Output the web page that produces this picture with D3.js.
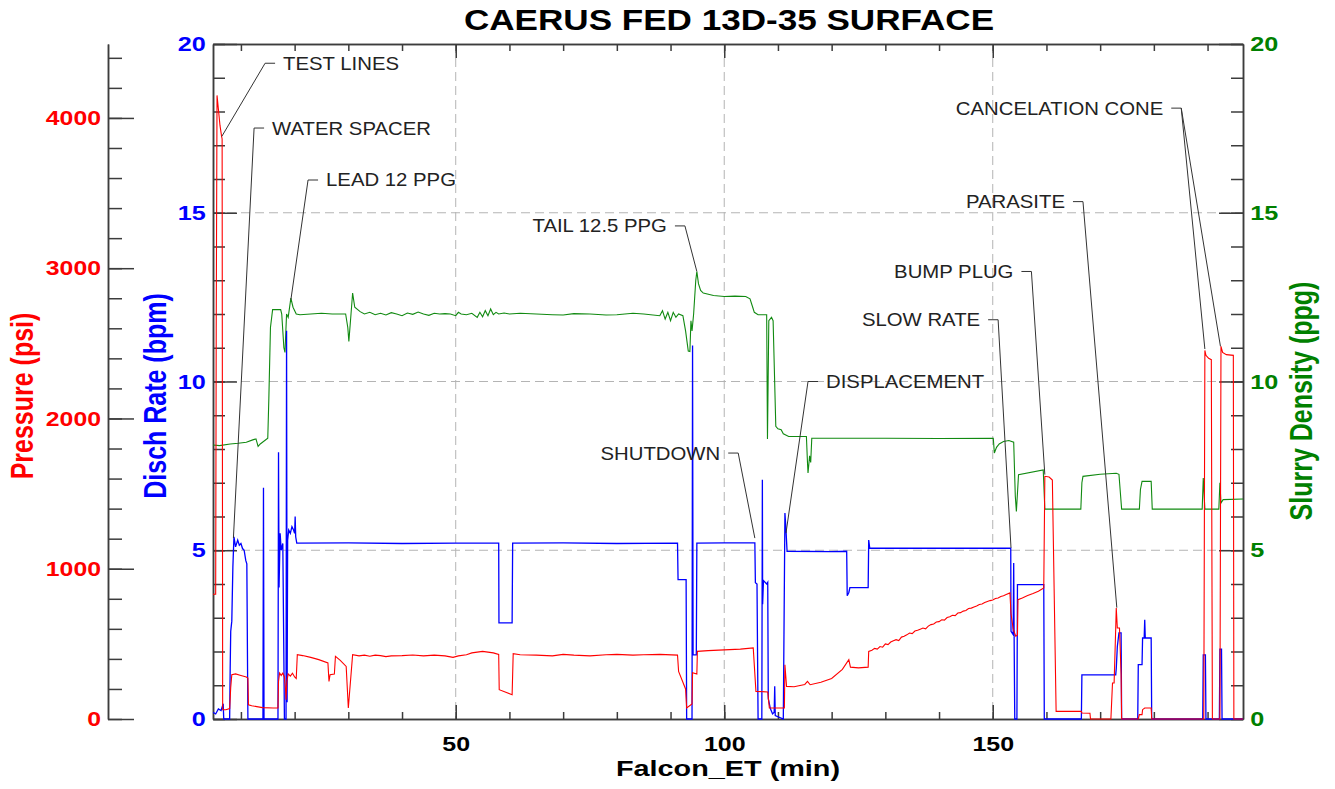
<!DOCTYPE html>
<html>
<head>
<meta charset="utf-8">
<script src="https://cdn.jsdelivr.net/npm/d3@7"></script>
<style>
  body { margin: 0; background: #fff; }
  text { font-family: "Liberation Sans", Arial, sans-serif; }
</style>
</head>
<body>
<div id="chart"></div>
<script>
// ---- chart data ----
const chartTitle = "CAERUS FED 13D-35 SURFACE";
const xTitle = "Falcon_ET (min)";
const pressureTitle = "Pressure (psi)";
const rateTitle = "Disch Rate (bpm)";
const densityTitle = "Slurry Density (ppg)";

const timeDomain = [4.8, 196.6];
const timeMajor = [50, 100, 150];
const timeMinor = d3.range(10, 200, 10);
const pressureDomain = [0, 4492];
const pressureMajor = [0, 1000, 2000, 3000, 4000];
const pressureMinor = d3.range(0, 4500, 200);
const rateMajor = [0, 5, 10, 15, 20];
const rateMinor = d3.range(0, 21, 1);

// [minutes, psi]
const pressure = [
  [4.8,830],[5.3,830],[5.4,2600],[5.55,4150],[5.8,4060],[6.1,3950],[6.4,3877],[6.5,3860],[6.6,62],[7.2,62],[7.9,70],
  [8.1,210],[8.3,295],[9.0,300],[10.0,290],[11.0,280],[11.3,273],[11.4,95],[12.0,88],[14.0,76],[16.0,73],[16.9,73],
  [17.0,250],[17.2,306],[17.5,290],[17.8,305],[18.1,280],[18.3,200],[18.4,128],[18.55,250],[18.8,300],[19.2,285],
  [19.6,305],[20.0,280],[20.3,270],[20.5,428],[21.5,422],[23.0,410],[24.5,395],[26.2,373],[26.4,250],[26.6,295],
  [27.4,300],[27.6,417],[28.5,390],[29.6,350],[30.0,73],[30.8,428],[32,420],[33,425],[34,418],[35,425],[36,422],
  [37,415],[38,420],[40,422],[42,426],[44,420],[46,425],[48,420],[49.5,410],[50.5,420],[52,428],[53,440],[54,445],
  [55,450],[56,445],[57,440],[58.0,430],[58.1,195],[60.5,162],[60.7,435],[62,428],[65,425],[68,420],[70,430],
  [72,425],[75,420],[78,428],[80,430],[83,425],[85,428],[88,430],[91.3,425],[91.5,317],[92.8,200],[93.0,73],
  [94.0,100],[94.1,308],[94.9,300],[95.0,450],[97,455],[100,460],[103,465],[105.4,473],[105.9,184],[108.1,180],
  [108.4,73],[111.2,73],[111.3,361],[111.6,217],[113,215],[115,230],[115.5,250],[116,228],[118,245],[120,270],
  [122,330],[123.2,395],[123.5,345],[125,340],[126.8,345],[126.9,450],[127.5,458],[128,470],[128.5,465],[129,482],
  [129.5,478],[130,500],[130.5,495],[131,512],[131.5,520],[132,528],[132.5,522],[133,545],[133.5,550],[134,560],
  [134.5,572],[135,568],[135.5,585],[136,590],[136.5,598],[137,605],[137.5,600],[138,618],[138.5,628],[139,632],
  [139.5,645],[140,648],[140.5,660],[141,658],[141.5,675],[142,680],[142.5,690],[143,688],[143.5,705],[144,708],
  [144.5,718],[145,722],[145.5,735],[146,738],[146.5,745],[147,752],[147.5,762],[148,765],[148.5,775],[149,782],
  [149.5,788],[150,792],[150.5,802],[151,805],[151.5,815],[152,820],[152.5,828],[153.2,839],[153.4,700],[153.8,600],
  [154.3,550],[154.6,560],[154.7,794],[155.5,805],[156.5,822],[157.5,835],[158.5,850],[159.5,872],[159.7,1615],
  [160.5,1610],[161.1,1590],[161.8,51],[166.5,51],[166.6,40],[168.1,38],[168.2,0],[172.0,0],[172.3,240],[172.6,240],
  [172.9,606],[173.0,739],[173.2,606],[173.6,606],[173.9,300],[174.0,0],[177.1,0],[177.3,29],[177.8,29],[177.9,62],
  [178.3,73],[179.5,73],[179.6,0],[189.3,0],[189.5,2453],[189.7,2420],[190.2,2400],[190.7,2391],[190.9,0],
  [192.3,0],[192.5,2480],[192.8,2440],[193.5,2425],[194.8,2420],[194.9,0],[196.6,0]
];

// [minutes, bpm]
const rate = [
  [4.8,0.2],[5.3,0.15],[5.8,0.3],[6.3,0.25],[6.7,0.45],[6.8,0],[7.9,0],[8.0,1.5],[8.1,2.6],[8.3,2.9],[8.5,4.5],
  [8.7,5.4],[9.0,5.1],[9.4,5.3],[9.7,5.15],[10.0,5.2],[10.3,5.05],[10.6,5.0],[10.9,4.7],[11.1,4.6],[11.3,0],
  [14.1,0],[14.2,6.85],[14.3,0],[16.9,0],[17.0,7.9],[17.1,3.9],[17.3,5.5],[17.5,5.0],[17.8,5.2],[18.1,0],[18.4,0],
  [18.5,11.5],[18.6,0.5],[18.7,5.3],[18.9,5.6],[19.2,5.5],[19.5,5.7],[19.8,5.6],[20.0,5.5],[20.1,6.0],[20.2,5.4],
  [20.4,5.21],[30,5.22],[40,5.2],[50,5.21],[58.0,5.21],[58.05,2.85],[60.5,2.85],[60.6,5.21],[70,5.22],[80,5.2],
  [91.3,5.21],[91.4,4.13],[92.9,4.13],[93.0,0],[94.0,0],[94.1,11.07],[94.2,1.9],[94.8,1.9],[94.9,5.21],[100,5.22],
  [105.7,5.22],[105.8,4.04],[106.1,4.0],[106.3,0],[107.0,0],[107.1,7.09],[107.15,3.4],[107.3,4.1],[107.9,4.0],
  [108.1,4.05],[108.2,0.6],[108.6,0.3],[109.0,0.15],[109.3,0.2],[109.4,0.97],[109.5,0.1],[111.0,0],[111.3,6.1],
  [111.5,5.6],[111.7,4.97],[120,4.96],[122.8,4.97],[122.9,3.65],[123.2,3.75],[123.4,3.89],[126.8,3.89],[126.9,5.3],
  [127.1,5.06],[140,5.06],[153.35,5.06],[153.4,2.6],[153.8,2.5],[153.9,4.62],[154.0,2.0],[154.1,0],[154.5,0],
  [154.6,3.98],[159.5,3.98],[159.6,0],[166.5,0],[166.6,1.31],[172.9,1.31],[173.0,1.5],[173.2,2.15],[173.5,2.55],
  [173.9,2.55],[174.0,0],[177.0,0],[177.1,1.61],[177.8,1.61],[177.9,2.4],[178.2,2.4],[178.3,2.94],[178.4,2.4],
  [179.5,2.4],[179.6,0],[189.1,0],[189.2,1.9],[189.6,1.9],[189.7,0],[192.2,0],[192.3,2.07],[192.6,2.07],[192.7,0],
  [196.6,0]
];

// [minutes, ppg]
const density = [
  [4.8,8.12],[6,8.1],[8,8.15],[9.5,8.17],[11,8.2],[12.2,8.27],[12.8,8.3],[13.2,8.08],[13.6,8.15],[15.0,8.32],
  [15.2,9.5],[15.5,11.6],[15.9,12.13],[17.4,12.13],[17.6,12.0],[18.0,11.0],[18.2,10.86],[18.5,12.0],[18.8,11.9],
  [19.3,12.47],[19.7,12.2],[20.3,12.0],[21.0,11.98],[23,12.0],[25,12.02],[27,12.0],[29.5,12.0],[29.9,11.6],
  [30.1,11.19],[30.5,12.0],[30.8,12.62],[31.2,12.2],[32.2,12.07],[33,12.0],[34,12.05],[35,11.98],[36,12.02],
  [37,11.97],[38,12.04],[39,12.0],[40,11.95],[41,12.03],[42,11.99],[43,12.06],[44,12.0],[45,11.96],[46,12.02],
  [47,12.0],[48,12.01],[49,12.0],[50,11.95],[50.5,12.05],[51,12.0],[52,11.98],[53,12.02],[54,11.9],[54.5,12.05],
  [55,11.92],[55.5,12.1],[56,11.95],[56.5,12.15],[57,11.98],[57.5,12.05],[58,12.0],[59,12.03],[60,12.0],[62,12.02],
  [65,12.0],[68,11.98],[70,11.97],[72,12.01],[75,12.0],[78,11.97],[80,11.98],[83,12.02],[85,12.0],[88,11.95],
  [88.5,12.1],[89,11.85],[89.5,12.05],[90,11.8],[90.5,12.05],[91,11.9],[91.5,12.0],[92.3,11.95],[92.8,11.5],
  [93.3,10.9],[93.6,10.89],[93.8,11.8],[94.0,11.5],[94.3,12.0],[94.7,13.0],[94.9,13.26],[95.2,12.9],[95.6,12.7],
  [96.1,12.62],[98,12.55],[100,12.52],[102,12.53],[104,12.52],[104.8,12.45],[105.3,12.2],[105.6,12.05],[106.3,11.98],
  [107.9,11.98],[108.05,8.3],[108.3,11.8],[108.8,11.9],[109.1,11.8],[109.6,8.67],[110,8.6],[110.6,8.57],[111,8.45],
  [112,8.37],[115.3,8.37],[115.5,7.6],[115.6,7.29],[115.9,7.8],[116.1,7.6],[116.3,8.32],[120,8.32],[130,8.32],
  [140,8.31],[150.1,8.32],[150.3,7.88],[150.7,8.05],[151.2,8.15],[152,8.22],[153,8.25],[153.9,8.2],[154.2,6.6],
  [154.4,6.15],[154.8,7.24],[159.4,7.38],[159.7,6.22],[166.4,6.22],[166.6,7.0],[166.8,7.19],[170,7.25],[173,7.28],
  [173.5,7.25],[174.0,6.22],[177.3,6.22],[177.5,6.8],[177.8,7.04],[179.5,7.04],[179.7,6.22],[189.0,6.22],
  [189.2,7.14],[189.5,6.22],[192.1,6.22],[192.3,7.0],[192.5,6.4],[192.9,6.5],[196.6,6.52]
];

// annotations: label, leader elbow [min, bpm-axis units], side of leader, targets [axis, min, value]
const noteLabels = ["TEST LINES", "WATER SPACER", "LEAD 12 PPG", "TAIL 12.5 PPG", "SHUTDOWN", "DISPLACEMENT",
  "CANCELATION CONE", "PARASITE", "BUMP PLUG", "SLOW RATE"];
const noteElbows = [[14.5,19.43],[12.45,17.51],[22.5,15.97],[92.68,14.61],[102.6,7.88],[115.6,10.0],
  [185.1,18.1],[166.8,15.33],[157.2,13.26],[151.0,11.83]];
const noteSides = ["left","left","left","right","right","left","right","right","right","right"];
const noteTargets = [
  [["p",6.44,3877]], [["r",8.6,5.36]], [["r",19.3,12.42]], [["r",94.9,13.26]], [["r",105.7,5.36]],
  [["r",111.5,5.51]], [["p",189.5,2462],["p",192.4,2480]], [["p",173.1,741]], [["r",159.7,7.24]], [["r",153.4,5.07]]
];

// ---- layout ----
const W = 1335, H = 789;
const plot = { left: 213, right: 1243, top: 44, bottom: 719 };
const pressureAxisX = 108;
const axisColor = "#3c3c3c";
const RED = "#ff0000", BLUE = "#0000ff", GREEN = "#008000";

const svg = d3.select("#chart").append("svg")
  .attr("width", W).attr("height", H)
  .style("display", "block");

const x = d3.scaleLinear().domain(timeDomain).range([plot.left, plot.right]);
const yRate = d3.scaleLinear().domain([0, 20]).range([plot.bottom, plot.top]);
const yPress = d3.scaleLinear().domain(pressureDomain).range([plot.bottom, plot.top]);

// grid
const grid = svg.append("g").attr("stroke", "#b4b4b4").attr("stroke-dasharray", "9,5").attr("stroke-width", 1);
grid.selectAll(".gx").data(timeMajor).enter().append("line")
  .attr("x1", d => x(d)).attr("x2", d => x(d)).attr("y1", plot.top).attr("y2", plot.bottom);
grid.selectAll(".gy").data([5, 10, 15]).enter().append("line")
  .attr("x1", plot.left).attr("x2", plot.right).attr("y1", d => yRate(d)).attr("y2", d => yRate(d));

function styleAxis(g, color) {
  g.select(".domain").attr("stroke", axisColor).attr("stroke-width", 1.5);
  g.selectAll(".tick line").attr("stroke", axisColor).attr("stroke-width", 1.5);
  g.selectAll("text").attr("fill", color).style("font-size", "21px").style("font-weight", "bold")
    .attr("font-family", null);
}

// bottom + top
const bottomMinor = svg.append("g").attr("transform", `translate(0,${plot.bottom})`)
  .call(d3.axisBottom(x).tickValues(timeMinor).tickSizeInner(-7).tickSizeOuter(0).tickFormat(""));
styleAxis(bottomMinor, "#000");
const bottomMajor = svg.append("g").attr("transform", `translate(0,${plot.bottom})`)
  .call(d3.axisBottom(x).tickValues(timeMajor).tickSizeInner(-14).tickSizeOuter(0).tickPadding(17)
    .tickFormat(d3.format("d")));
styleAxis(bottomMajor, "#000");
bottomMajor.selectAll("text").attr("transform", "scale(1.19,1)");

const topMinor = svg.append("g").attr("transform", `translate(0,${plot.top})`)
  .call(d3.axisTop(x).tickValues(timeMinor).tickSizeInner(-7).tickSizeOuter(0).tickFormat(""));
styleAxis(topMinor, "#000");
const topMajor = svg.append("g").attr("transform", `translate(0,${plot.top})`)
  .call(d3.axisTop(x).tickValues(timeMajor).tickSizeInner(-14).tickSizeOuter(0).tickFormat(""));
styleAxis(topMajor, "#000");

// rate axis (left of plot)
const rateMinorG = svg.append("g").attr("transform", `translate(${plot.left},0)`)
  .call(d3.axisLeft(yRate).tickValues(rateMinor).tickSizeInner(-12).tickSizeOuter(0).tickFormat(""));
styleAxis(rateMinorG, BLUE);
const rateMajorG = svg.append("g").attr("transform", `translate(${plot.left},0)`)
  .call(d3.axisLeft(yRate).tickValues(rateMajor).tickSizeInner(-24).tickSizeOuter(0).tickPadding(6)
    .tickFormat(d3.format("d")));
styleAxis(rateMajorG, BLUE);
rateMajorG.selectAll("text").attr("transform", "scale(1.2,1)");

// density axis (right of plot)
const densMinorG = svg.append("g").attr("transform", `translate(${plot.right},0)`)
  .call(d3.axisRight(yRate).tickValues(rateMinor).tickSizeInner(-12).tickSizeOuter(0).tickFormat(""));
styleAxis(densMinorG, GREEN);
const densMajorG = svg.append("g").attr("transform", `translate(${plot.right},0)`)
  .call(d3.axisRight(yRate).tickValues(rateMajor).tickSizeInner(-24).tickSizeOuter(0).tickPadding(6)
    .tickFormat(d3.format("d")));
styleAxis(densMajorG, GREEN);
densMajorG.selectAll("text").attr("transform", "scale(1.2,1)");

// pressure axis (far left)
const pMinorG = svg.append("g").attr("transform", `translate(${pressureAxisX},0)`)
  .call(d3.axisLeft(yPress).tickValues(pressureMinor).tickSizeInner(-14).tickSizeOuter(0).tickFormat(""));
styleAxis(pMinorG, RED);
const pMajorG = svg.append("g").attr("transform", `translate(${pressureAxisX},0)`)
  .call(d3.axisLeft(yPress).tickValues(pressureMajor).tickSizeInner(-26).tickSizeOuter(0).tickPadding(6)
    .tickFormat(d3.format("d")));
styleAxis(pMajorG, RED);
pMajorG.selectAll("text").attr("transform", "scale(1.18,1)");

// series
svg.append("clipPath").attr("id", "plotclip").append("rect")
  .attr("x", plot.left).attr("y", plot.top - 1)
  .attr("width", plot.right - plot.left).attr("height", plot.bottom - plot.top + 2);

const lineRate = d3.line().x(d => x(d[0])).y(d => yRate(d[1]));
const linePress = d3.line().x(d => x(d[0])).y(d => yPress(d[1]));

const series = svg.append("g").attr("clip-path", "url(#plotclip)").attr("fill", "none");
series.append("path").datum(density).attr("d", lineRate).attr("stroke", "#118a11").attr("stroke-width", 1.1);
series.append("path").datum(rate).attr("d", lineRate).attr("stroke", BLUE).attr("stroke-width", 1.3);
series.append("path").datum(pressure).attr("d", linePress).attr("stroke", RED).attr("stroke-width", 1.1);

// annotations
const notes = svg.append("g");
noteLabels.forEach((label, i) => {
  const ex = x(noteElbows[i][0]);
  const ey = yRate(noteElbows[i][1]);
  const dir = noteSides[i] === "left" ? 1 : -1; // text sits to the right of the leader when "left"
  const hx = ex + dir * 10;
  notes.append("line").attr("x1", ex).attr("y1", ey).attr("x2", hx).attr("y2", ey)
    .attr("stroke", "#333").attr("stroke-width", 1);
  noteTargets[i].forEach(t => {
    const ty = t[0] === "p" ? yPress(t[2]) : yRate(t[2]);
    notes.append("line").attr("x1", ex).attr("y1", ey).attr("x2", x(t[1])).attr("y2", ty)
      .attr("stroke", "#333").attr("stroke-width", 1);
  });
  notes.append("text")
    .attr("transform", `translate(${hx + dir * 8},${ey}) scale(1.13,1)`)
    .attr("text-anchor", dir === 1 ? "start" : "end")
    .attr("dy", "0.36em")
    .style("font-size", "18px")
    .attr("fill", "#222")
    .text(label);
});

// titles
svg.append("text")
  .attr("transform", "translate(729,30) scale(1.17,1)")
  .attr("text-anchor", "middle")
  .style("font-size", "30px").style("font-weight", "bold")
  .text(chartTitle);

svg.append("text")
  .attr("transform", "translate(728,776) scale(1.31,1)")
  .attr("text-anchor", "middle")
  .style("font-size", "22px").style("font-weight", "bold")
  .text(xTitle);

svg.append("text")
  .attr("transform", "translate(33,396) scale(1.25,1) rotate(-90)")
  .attr("text-anchor", "middle")
  .style("font-size", "25px").style("font-weight", "bold")
  .attr("fill", RED)
  .text(pressureTitle);

svg.append("text")
  .attr("transform", "translate(166,396) scale(1.25,1) rotate(-90)")
  .attr("text-anchor", "middle")
  .style("font-size", "25px").style("font-weight", "bold")
  .attr("fill", BLUE)
  .text(rateTitle);

svg.append("text")
  .attr("transform", "translate(1312,401) scale(1.25,1) rotate(-90)")
  .attr("text-anchor", "middle")
  .style("font-size", "25px").style("font-weight", "bold")
  .attr("fill", GREEN)
  .text(densityTitle);
</script>
</body>
</html>
